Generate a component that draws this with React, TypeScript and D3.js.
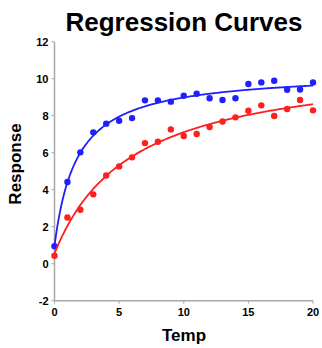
import React from "react";
import * as d3 from "d3";

const temps = [0,1,2,3,4,5,6,7,8,9,10,11,12,13,14,15,16,17,18,19,20];
const blueValues = [0.94,4.42,6.02,7.1,7.57,7.73,7.87,8.83,8.83,8.76,9.08,9.19,8.94,8.85,8.94,9.71,9.8,9.89,9.4,9.42,9.8];
const redValues = [0.43,2.5,2.92,3.75,4.77,5.26,5.75,6.52,6.59,7.26,6.9,7.01,7.39,7.69,7.91,8.27,8.56,7.98,8.36,8.85,8.29];
const xTicks = [0,5,10,15,20];
const yTicks = [-2,0,2,4,6,8,10,12];

type Fit = { y0: number; a: number; b: number };

// least-squares fit of y = y0 + a*x/(b+x)
function fitHyperbola(xs: number[], ys: number[]): Fit {
  let best: Fit = { y0: 0, a: 0, b: 1 };
  let bestErr = Infinity;
  for (let b = 0.05; b <= 30; b += 0.01) {
    const u = xs.map((x) => x / (b + x));
    const n = xs.length;
    const mu = d3.mean(u)!;
    const my = d3.mean(ys)!;
    let sxy = 0, sxx = 0;
    for (let i = 0; i < n; i++) {
      sxy += (u[i] - mu) * (ys[i] - my);
      sxx += (u[i] - mu) ** 2;
    }
    const a = sxy / sxx;
    const y0 = my - a * mu;
    let err = 0;
    for (let i = 0; i < n; i++) err += (ys[i] - (y0 + a * u[i])) ** 2;
    if (err < bestErr) { bestErr = err; best = { y0, a, b }; }
  }
  return best;
}

export default function App() {
  const W = 322, H = 348;
  const x = d3.scaleLinear().domain([0, 20]).range([54.5, 313]);
  const y = d3.scaleLinear().domain([-2, 12]).range([300.7, 41.7]);
  const series = [
    { values: blueValues, color: "#1f1fff" },
    { values: redValues, color: "#ff1f1f" },
  ];
  const fine = d3.range(0, 20.001, 0.1);
  const line = d3.line<[number, number]>().x((d) => x(d[0])).y((d) => y(d[1]));
  const axisColor = "#a8a8a8";
  const font = "'Liberation Sans', Arial, sans-serif";
  return (
    <svg width={W} height={H} style={{ position: "absolute", left: 0, top: 0 }} fontFamily={font}>
      <rect width={W} height={H} fill="#fff" />
      <text x={184} y={31} textAnchor="middle" fontSize={26} fontWeight="bold">Regression Curves</text>
      {/* axes */}
      <line x1={x(0)} x2={x(0)} y1={y(-2)} y2={y(12)} stroke={axisColor} strokeWidth={1.5} />
      <line x1={x(0)} x2={x(20)} y1={y(-2)} y2={y(-2)} stroke={axisColor} strokeWidth={1.5} />
      {yTicks.map((t) => (
        <g key={"y" + t}>
          <line x1={x(0) - 3} x2={x(0)} y1={y(t)} y2={y(t)} stroke={axisColor} strokeWidth={1} />
          <text x={x(0) - 6} y={y(t)} dy="0.35em" textAnchor="end" fontSize={11} fontWeight="bold">{t}</text>
        </g>
      ))}
      {xTicks.map((t) => (
        <g key={"x" + t}>
          <line x1={x(t)} x2={x(t)} y1={y(-2)} y2={y(-2) + 3} stroke={axisColor} strokeWidth={1} />
          <text x={x(t)} y={y(-2) + 15} textAnchor="middle" fontSize={11} fontWeight="bold">{t}</text>
        </g>
      ))}
      <text x={184} y={341} textAnchor="middle" fontSize={17} fontWeight="bold">Temp</text>
      <text transform={`translate(21,164) rotate(-90)`} textAnchor="middle" fontSize={17} fontWeight="bold">Response</text>
      {series.map((s, i) => {
        const f = fitHyperbola(temps, s.values);
        const pts: [number, number][] = fine.map((t) => [t, f.y0 + (f.a * t) / (f.b + t)]);
        return (
          <g key={i}>
            <path d={line(pts) || ""} fill="none" stroke={s.color} strokeWidth={1.8} />
            {s.values.map((v, j) => (
              <circle key={j} cx={x(temps[j])} cy={y(v)} r={3.2} fill={s.color} />
            ))}
          </g>
        );
      })}
    </svg>
  );
}
